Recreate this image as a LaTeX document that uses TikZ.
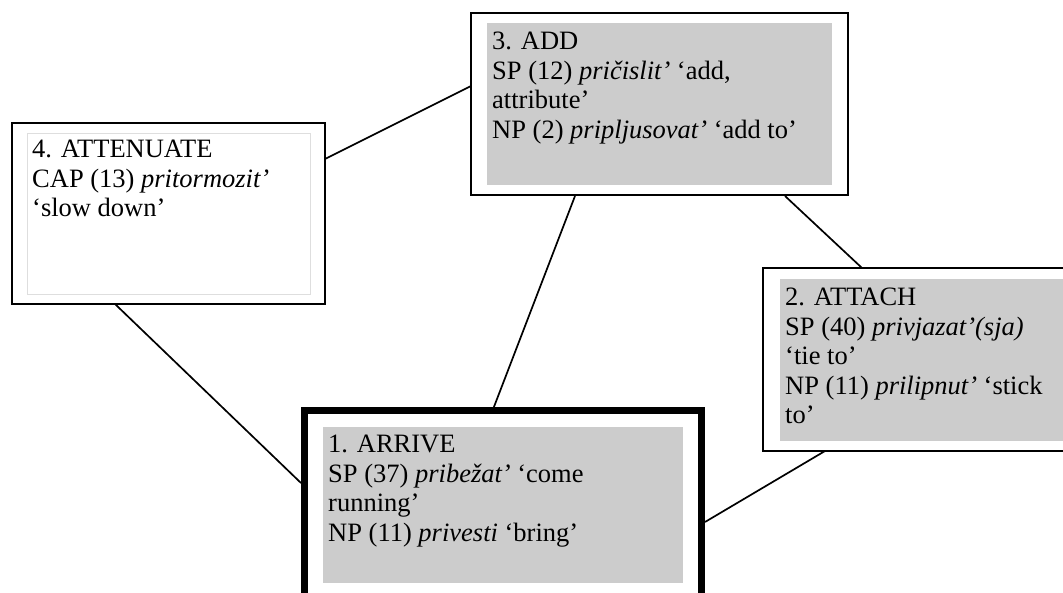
\documentclass[tikz,border=0pt]{standalone}
\usepackage{fontspec}
\setmainfont{Liberation Serif}
\definecolor{boxgray}{RGB}{204,204,204}
\definecolor{innerline}{RGB}{222,222,222}
\begin{document}
\begin{tikzpicture}[x=1pt,y=-1pt,
  outerbox/.style={draw=black, line width=2pt, fill=white},
  thickbox/.style={draw=black, line width=7pt, fill=white},
  grayarea/.style={fill=boxgray, draw=none},
  whitearea/.style={fill=white, draw=innerline, line width=1pt},
  txt/.style={anchor=north west, inner sep=0pt, align=left, font=\fontsize{26.5}{29.5}\selectfont},
  conn/.style={draw=black, line width=1.7pt}]
\useasboundingbox (0,0) rectangle (1063,592);
\clip (0,0) rectangle (1063,592);
% connectors (drawn first, under boxes)
\coordinate (p43a) at (325,159);
\coordinate (p43b) at (471,86);
\coordinate (p41a) at (115,304);
\coordinate (p41b) at (301,483);
\coordinate (p31a) at (575,196);
\coordinate (p31b) at (492,412);
\coordinate (p32a) at (785,196);
\coordinate (p32b) at (862,268);
\coordinate (p12a) at (705,522);
\coordinate (p12b) at (825,451);
\draw[conn] (p43a) -- (p43b);
\draw[conn] (p41a) -- (p41b);
\draw[conn] (p31a) -- (p31b);
\draw[conn] (p32a) -- (p32b);
\draw[conn] (p12a) -- (p12b);
% box 3 ADD
\path[outerbox] (471,13) rectangle (848,195);
\path[grayarea] (487,23) rectangle (832,185);
\node[txt] (t3) at (492,32) {3. ADD\\SP (12) \textit{pričislit’} ‘add,\\attribute’\\NP (2) \textit{pripljusovat’} ‘add to’};
% box 4 ATTENUATE
\path[outerbox] (12,123) rectangle (325,304);
\path[whitearea] (27,133) rectangle (310,294);
\node[txt] (t4) at (32,140) {4. ATTENUATE\\CAP (13) \textit{pritormozit’}\\‘slow down’};
% box 2 ATTACH
\path[outerbox] (763,268) rectangle (1090,451);
\path[grayarea] (780,279) rectangle (1080,441);
\node[txt] (t2) at (785,288) {2. ATTACH\\SP (40) \textit{privjazat’(sja)}\\‘tie to’\\NP (11) \textit{prilipnut’} ‘stick\\to’};
% box 1 ARRIVE
\path[thickbox] (304.5,410) rectangle (701,630);
\path[grayarea] (323,427) rectangle (683,583);
\node[txt] (t1) at (328,435) {1. ARRIVE\\SP (37) \textit{pribežat’} ‘come\\running’\\NP (11) \textit{privesti} ‘bring’};
\end{tikzpicture}
\end{document}
